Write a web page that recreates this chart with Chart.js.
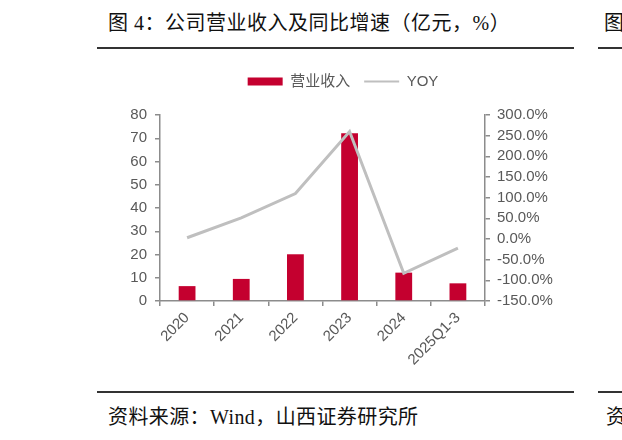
<!DOCTYPE html>
<html>
<head>
<meta charset="utf-8">
<script src="https://cdn.jsdelivr.net/npm/chart.js@4.4.1/dist/chart.umd.min.js"></script>
<style>
  body { margin: 0; background: #fff; width: 622px; height: 440px; position: relative; overflow: hidden; }
  .txt { position: absolute; font-family: "Liberation Serif", "Noto Sans CJK SC", serif; color: #111; white-space: nowrap; }
  .rule { position: absolute; height: 1.5px; background: #333; }
  #box { position: absolute; left: 110px; top: 60px; width: 466px; height: 325px; }
</style>
</head>
<body>
<div class="txt" id="title" style="left:108px; top:7px; font-size:20px; letter-spacing:0.5px;">图 4：公司营业收入及同比增速（亿元，%）</div>
<div class="txt" style="left:604px; top:7px; font-size:20px;">图</div>
<div class="rule" style="left:97px; top:47px; width:477px;"></div>
<div class="rule" style="left:598px; top:47px; width:24px;"></div>

<div id="box"><canvas id="chart"></canvas></div>

<div class="rule" style="left:97px; top:391px; width:477px;"></div>
<div class="rule" style="left:598px; top:391px; width:24px;"></div>
<div class="txt" id="source" style="left:108px; top:401px; font-size:20px; letter-spacing:0.4px;">资料来源：Wind，山西证券研究所</div>
<div class="txt" style="left:606px; top:401px; font-size:20px;">资</div>

<script>
// データ
const years = ['2020', '2021', '2022', '2023', '2024', '2025Q1-3'];
const revenue = [6.4, 9.5, 20.1, 72.1, 12.2, 7.6];    // 营业收入（亿元）
const yoy = [3, 51, 110, 260, -83, -22];               // 同比增速（%）
const leftTicks = { min: 0, max: 80, step: 10 };
const rightTicks = { min: -150, max: 300, step: 50 };

const tickColor = '#595959';
const axisColor = '#8c8c8c';
const tickFont = { family: '"Liberation Sans"', size: 15 };

// 凡例とグラフの間隔を広げる
const legendGap = {
    id: 'legendGap',
    beforeInit(chart) {
        const fit = chart.legend.fit;
        chart.legend.fit = function () {
            fit.bind(chart.legend)();
            this.height += 16;
        };
    }
};

const ctx = document.getElementById('chart').getContext('2d');
new Chart(ctx, {
    type: 'bar',
    data: {
        labels: years,
        datasets: [
            {
                type: 'bar',
                label: '营业收入',
                data: revenue,
                backgroundColor: '#C4002F',
                yAxisID: 'y',
                barPercentage: 0.31,
                categoryPercentage: 1,
                order: 1
            },
            {
                type: 'line',
                label: 'YOY',
                data: yoy,
                borderColor: '#BFBFBF',
                borderWidth: 3,
                pointRadius: 0,
                tension: 0,
                yAxisID: 'y1',
                order: 0
            }
        ]
    },
    options: {
        responsive: true,
        maintainAspectRatio: false,
        animation: false,
        layout: { padding: 0 },
        plugins: {
            tooltip: { enabled: false },
            legend: {
                position: 'top',
                labels: {
                    color: tickColor,
                    font: { family: '"Liberation Sans", "Noto Sans CJK SC"', size: 15 },
                    usePointStyle: true,
                    pointStyleWidth: 35,
                    boxHeight: 8,
                    padding: 14,
                    generateLabels(chart) {
                        return chart.data.datasets.map((ds, i) => ({
                            text: ds.label,
                            datasetIndex: i,
                            fontColor: tickColor,
                            pointStyle: ds.type === 'line' ? 'line' : 'rect',
                            fillStyle: ds.type === 'line' ? '#BFBFBF' : ds.backgroundColor,
                            strokeStyle: ds.type === 'line' ? '#BFBFBF' : ds.backgroundColor,
                            lineWidth: ds.type === 'line' ? 2 : 0
                        }));
                    }
                }
            }
        },
        scales: {
            x: {
                offset: true,
                grid: { display: true, drawOnChartArea: false, offset: true, color: axisColor, tickLength: 5, lineWidth: 1.5 },
                border: { color: axisColor, width: 1.5 },
                ticks: {
                    color: tickColor,
                    font: tickFont,
                    minRotation: 45,
                    maxRotation: 45,
                    autoSkip: false
                },
                afterFit(scale) { scale.height = 84; }
            },
            y: {
                position: 'left',
                min: leftTicks.min,
                max: leftTicks.max,
                grid: { display: true, drawOnChartArea: false, color: axisColor, tickLength: 5, lineWidth: 1.5 },
                border: { color: axisColor, width: 1.5 },
                ticks: {
                    stepSize: leftTicks.step,
                    color: tickColor,
                    font: tickFont,
                    autoSkip: false,
                    padding: 8
                },
                afterFit(scale) { scale.width = 50; }
            },
            y1: {
                position: 'right',
                min: rightTicks.min,
                max: rightTicks.max,
                grid: { display: true, drawOnChartArea: false, color: axisColor, tickLength: 5, lineWidth: 1.5 },
                border: { color: axisColor, width: 1.5 },
                ticks: {
                    stepSize: rightTicks.step,
                    color: tickColor,
                    font: tickFont,
                    autoSkip: false,
                    padding: 7,
                    callback: v => v.toFixed(1) + '%'
                },
                afterFit(scale) { scale.width = 91; }
            }
        }
    },
    plugins: [legendGap]
});
</script>
</body>
</html>
